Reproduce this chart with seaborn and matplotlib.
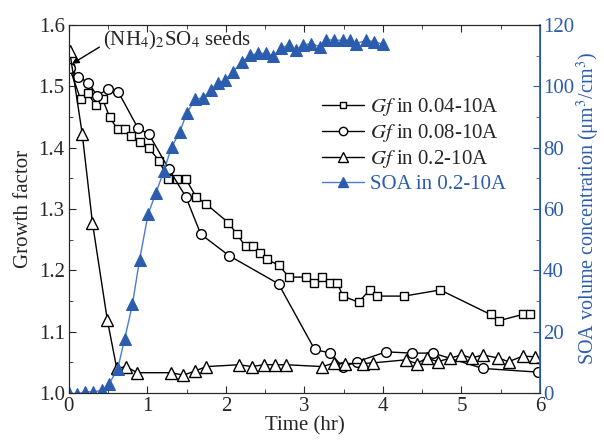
import numpy as np
import pandas as pd
import matplotlib
matplotlib.use("Agg")
import matplotlib.pyplot as plt
import seaborn as sns
from matplotlib.lines import Line2D
from matplotlib.ticker import MultipleLocator

sns.set_style("ticks")
plt.rcParams['font.family'] = ['Liberation Serif', 'DejaVu Serif']
plt.rcParams['mathtext.fontset'] = 'stix'

# Gf in 0.04-10A (squares)
t_sq = [0.01, 0.15, 0.24, 0.34, 0.43, 0.52, 0.62, 0.71, 0.79, 0.90, 1.02, 1.15, 1.26, 1.38, 1.49,
        1.62, 1.75, 2.03, 2.14, 2.25, 2.34, 2.43, 2.52, 2.68, 2.80, 3.02, 3.12, 3.22, 3.32, 3.42,
        3.49, 3.69, 3.83, 3.93, 4.27, 4.73, 5.37, 5.48, 5.78, 5.87]
gf_sq = [1.530, 1.479, 1.490, 1.469, 1.479, 1.450, 1.430, 1.430, 1.420, 1.410, 1.399, 1.379, 1.349,
         1.349, 1.349, 1.320, 1.308, 1.278, 1.259, 1.239, 1.239, 1.229, 1.218, 1.208, 1.189, 1.189,
         1.179, 1.189, 1.179, 1.179, 1.158, 1.148, 1.168, 1.158, 1.158, 1.168, 1.128, 1.118, 1.128, 1.128]

# Gf in 0.08-10A (circles)
t_ci = [0.01, 0.12, 0.25, 0.36, 0.50, 0.63, 0.88, 1.02, 1.27, 1.49, 1.68, 2.04, 2.67, 3.13, 3.33,
        3.49, 3.67, 4.04, 4.37, 4.64, 5.27, 5.97]
gf_ci = [1.530, 1.516, 1.506, 1.485, 1.496, 1.491, 1.432, 1.422, 1.366, 1.320, 1.259, 1.224, 1.178,
         1.071, 1.065, 1.042, 1.051, 1.067, 1.065, 1.065, 1.040, 1.034]

# Gf in 0.2-10A (open triangles)
t_tr = [0.01, 0.17, 0.30, 0.49, 0.61, 0.73, 0.87, 1.30, 1.46, 1.61, 1.75, 2.17, 2.33, 2.48, 2.62,
        2.77, 3.23, 3.38, 3.52, 3.74, 3.87, 4.29, 4.43, 4.56, 4.70, 4.86, 5.00, 5.13, 5.27, 5.47,
        5.60, 5.78, 5.94]
gf_tr = [1.558, 1.423, 1.278, 1.119, 1.040, 1.043, 1.033, 1.033, 1.029, 1.036, 1.043, 1.046, 1.043,
         1.046, 1.046, 1.046, 1.043, 1.049, 1.048, 1.048, 1.049, 1.054, 1.048, 1.057, 1.051, 1.057,
         1.062, 1.057, 1.062, 1.057, 1.051, 1.060, 1.059]

# SOA in 0.2-10A (filled blue triangles, right axis)
t_soa = [0.00, 0.10, 0.20, 0.31, 0.42, 0.51, 0.62, 0.71, 0.81, 0.90, 1.01, 1.11, 1.21, 1.31, 1.41,
         1.50, 1.61, 1.71, 1.81, 1.90, 1.99, 2.09, 2.20, 2.31, 2.41, 2.51, 2.60, 2.70, 2.80, 2.89,
         2.98, 3.09, 3.20, 3.28, 3.38, 3.49, 3.58, 3.66, 3.79, 3.89, 4.00]
soa = [0.0, -0.5, 0.4, 0.4, 0.8, 2.9, 7.7, 17.5, 29.0, 43.4, 58.4, 65.3, 72.5, 80.3, 85.0, 91.2, 95.9,
       96.3, 98.8, 101.0, 102.1, 104.8, 108.0, 110.2, 110.8, 110.8, 109.9, 112.4, 113.6, 111.9, 113.5,
       114.0, 112.9, 115.3, 115.1, 115.1, 115.1, 114.0, 115.1, 114.6, 113.8]

blue = '#2b5cae'
blue_line = '#4a7ccc'

fig = plt.figure(figsize=(6.04, 4.42), dpi=100)
ax = fig.add_axes([0.114, 0.111, 0.780, 0.832])
ax2 = ax.twinx()

kw = dict(color='black', linewidth=1.0, markerfacecolor='white', markeredgecolor='black',
          markeredgewidth=1.0, ax=ax, legend=False, estimator=None, sort=False)
sns.lineplot(x=t_sq, y=gf_sq, marker='s', markersize=6, **kw)
sns.lineplot(x=t_ci, y=gf_ci, marker='o', markersize=7, **kw)
sns.lineplot(x=t_tr, y=gf_tr, marker='^', markersize=8, **kw)
sns.lineplot(x=t_soa, y=soa, marker='^', markersize=8, color=blue_line, linewidth=1.0,
             markerfacecolor=blue, markeredgecolor=blue, ax=ax2, legend=False,
             estimator=None, sort=False)

ax.set_xlim(0, 6)
ax.set_ylim(1.0, 1.6)
ax2.set_ylim(0, 120)
ax.xaxis.set_major_locator(MultipleLocator(1))
ax.xaxis.set_minor_locator(MultipleLocator(0.5))
ax.yaxis.set_major_locator(MultipleLocator(0.1))
ax.yaxis.set_minor_locator(MultipleLocator(0.05))
ax2.yaxis.set_major_locator(MultipleLocator(20))
ax2.yaxis.set_minor_locator(MultipleLocator(10))

fs = 15
ax.tick_params(axis='both', which='both', direction='in', labelsize=fs, top=True, pad=3)
ax.tick_params(which='major', length=5)
ax.tick_params(which='minor', length=3)
ax2.tick_params(axis='y', which='both', direction='in', colors=blue, labelsize=fs, pad=2)
ax2.tick_params(which='major', length=5)
ax2.tick_params(which='minor', length=3)
ax2.spines['right'].set_color(blue)
ax2.spines['right'].set_linewidth(1.2)

ax.set_xlabel('Time (hr)', fontsize=fs, labelpad=0)
ax.set_ylabel('Growth factor', fontsize=fs, labelpad=4)
ax2.set_ylabel('SOA volume concentration (μm$^3$/cm$^3$)', fontsize=14.5, color=blue, labelpad=1)

ax.annotate('(NH$_4$)$_2$SO$_4$ seeds', xy=(0.04, 1.537), xytext=(0.43, 1.575),
            fontsize=fs, ha='left', va='center',
            arrowprops=dict(arrowstyle='-|>', color='black', lw=1.0, shrinkA=0, shrinkB=0,
                            mutation_scale=10, relpos=(0, 0.3)),
            annotation_clip=False)

handles = [
    Line2D([], [], color='black', lw=1, marker='s', markersize=5, markerfacecolor='white'),
    Line2D([], [], color='black', lw=1, marker='o', markersize=6, markerfacecolor='white'),
    Line2D([], [], color='black', lw=1, marker='^', markersize=6.5, markerfacecolor='white'),
    Line2D([], [], color=blue_line, lw=1, marker='^', markersize=7, markerfacecolor=blue,
           markeredgecolor=blue),
]
labels = ['$\\mathit{Gf}$ in 0.04-10A', '$\\mathit{Gf}$ in 0.08-10A', '$\\mathit{Gf}$ in 0.2-10A',
          'SOA in 0.2-10A']
leg = ax.legend(handles, labels, loc='upper left', bbox_to_anchor=(0.52, 0.83), frameon=False,
                fontsize=fs, handlelength=2.0, handletextpad=0.3, labelspacing=0.2,
                borderaxespad=0)
leg.get_texts()[3].set_color(blue)

fig.savefig('out.png', dpi=100)
